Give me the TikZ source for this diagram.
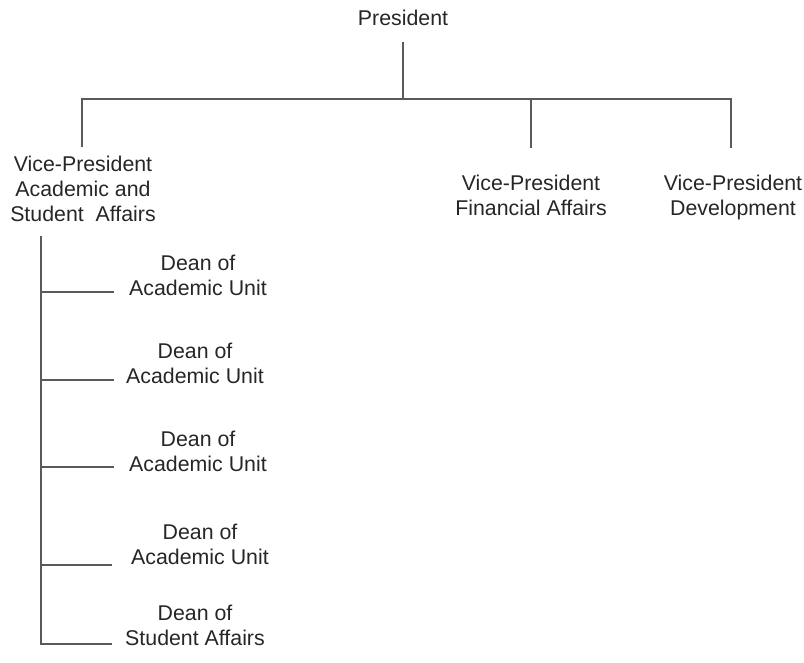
\documentclass[tikz,border=0pt]{standalone}
\usepackage{fontspec}
\setmainfont{Liberation Sans}
\usetikzlibrary{calc}
\definecolor{linegray}{HTML}{5A5A5A}
\definecolor{textgray}{HTML}{262626}
\begin{document}
\begin{tikzpicture}[x=0.75pt,y=-0.75pt,
  link/.style={draw=linegray,line width=1.6pt},
  lbl/.style={inner sep=0pt,outer sep=0pt,align=center,anchor=base,
    text=textgray,font=\fontsize{16}{18.75}\selectfont}]
\useasboundingbox (0,0) rectangle (804,663);

% top level (base anchor = baseline of the last line)
\node[lbl] (pres) at (403,26) {President};

% vice-presidents
\node[lbl] (vpa) at (83,222) {Vice-President\\Academic and\\Student\ \ Affairs};
\node[lbl] (vpf) at (531,216) {Vice-President\\Financial Affairs};
\node[lbl] (vpd) at (733,216) {Vice-President\\Development};

% deans under the academic vice-president
\node[lbl] (dean1) at (198,296) {Dean of\\Academic Unit};
\node[lbl] (dean2) at (195,383) {Dean of\\Academic Unit};
\node[lbl] (dean3) at (198,471) {Dean of\\Academic Unit};
\node[lbl] (dean4) at (200,564) {Dean of\\Academic Unit};
\node[lbl] (dean5) at (195,645) {Dean of\\Student Affairs};

% president to the three vice-presidents
\coordinate (hub) at (403,99);
\coordinate (vpaTop) at (82,147);
\coordinate (vpfTop) at (531,148);
\coordinate (vpdTop) at (731,148);
\draw[link] (pres.base |- 0,42) -- (hub);
\draw[link,line join=miter] (vpaTop) |- (hub) -| (vpdTop);
\draw[link] (vpfTop) -- (vpfTop |- hub);

% spine with branches to the deans
\coordinate (spineTop) at (41,236);
\coordinate (b1) at (114,292);
\coordinate (b2) at (114,380);
\coordinate (b3) at (114,467);
\coordinate (b4) at (112,565);
\coordinate (b5) at (112,644);
\draw[link,line join=miter] (spineTop) |- (b5);
\foreach \b in {b1,b2,b3,b4}
  \draw[link] (spineTop |- \b) -- (\b);
\end{tikzpicture}
\end{document}
